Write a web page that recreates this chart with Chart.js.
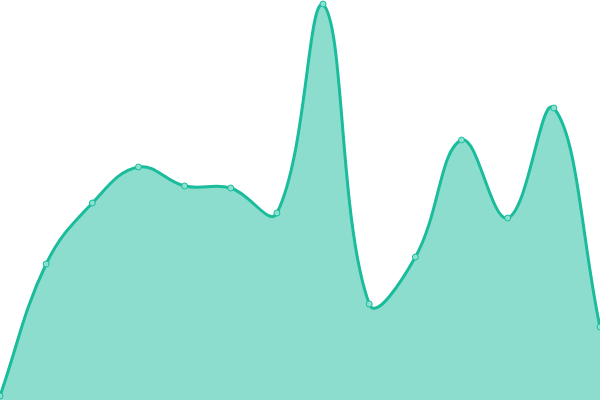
<!DOCTYPE html>
<html>
<head>
<meta charset="utf-8">
<script src="https://cdn.jsdelivr.net/npm/chart.js@4"></script>
<style>
  html, body { margin: 0; padding: 0; background: #fff; }
  #wrap { width: 600px; height: 400px; }
</style>
</head>
<body>
<div id="wrap"><canvas id="chart"></canvas></div>
<script>
// Data
const labels = ['1', '2', '3', '4', '5', '6', '7', '8', '9', '10', '11', '12', '13', '14'];
const values = [1, 34, 49.25, 58.25, 53.5, 53, 46.75, 99, 24, 35.75, 65, 45.5, 73, 18.25];

const ctx = document.getElementById('chart').getContext('2d');
new Chart(ctx, {
    type: 'line',
    data: {
        labels: labels,
        datasets: [{
            data: values,
            borderColor: '#1abc9c',
            backgroundColor: 'rgba(26, 188, 156, 0.5)',
            pointBackgroundColor: 'rgba(140, 224, 207, 1)',
            pointBorderColor: '#1abc9c',
            pointBorderWidth: 1,
            pointRadius: 3,
            borderWidth: 3,
            fill: true,
            tension: 0.4
        }]
    },
    options: {
        responsive: true,
        maintainAspectRatio: false,
        animation: false,
        layout: { padding: 0, autoPadding: false },
        scales: {
            x: { display: false },
            y: { display: false, min: 0, max: 100 }
        },
        plugins: {
            legend: { display: false },
            tooltip: { enabled: false }
        }
    }
});
</script>
</body>
</html>
